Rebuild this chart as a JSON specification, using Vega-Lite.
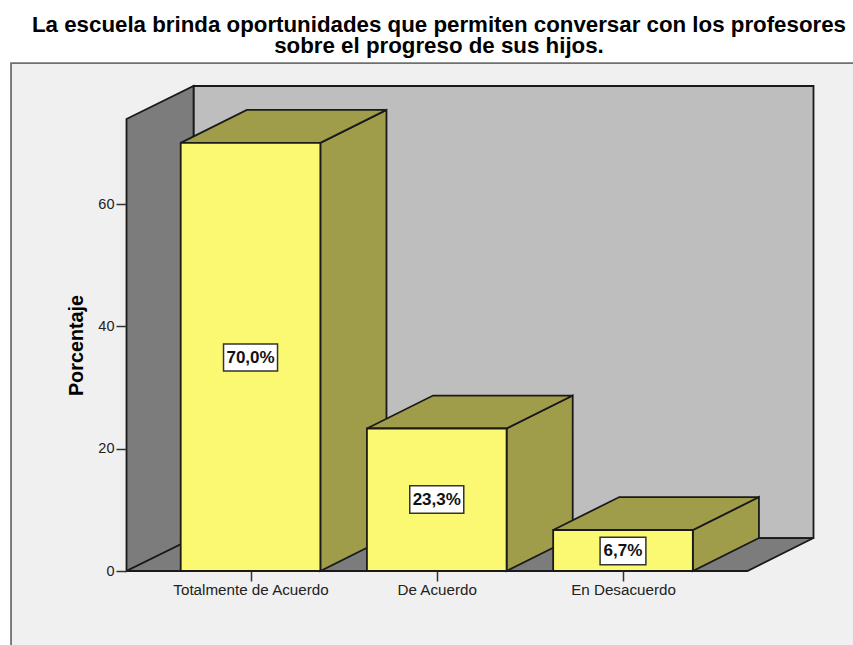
{
"$schema":"https://vega.github.io/schema/vega-lite/v6.json",
"width":687,"height":485,
"autosize":{"type":"none"},
"padding":{"left":126,"top":86,"right":40,"bottom":74},
"background":"#ffffff",
"config":{"view":{"stroke":null}},
"title":{"text":["La escuela brinda oportunidades que permiten conversar con los profesores","sobre el progreso de sus hijos."],"font":"Liberation Sans","fontSize":22.3,"fontWeight":"bold","color":"#000000","lineHeight":21.3,"anchor":"middle","dx":-30.5,"offset":2,"limit":0},
"datasets":{
"caras":[
{"cara":"panel","tipo":"panel","x":-0.286,"y0":-14,"y1":83.05},
{"cara":"panel","tipo":"panel","x":4.3,"y0":-14,"y1":83.05},
{"cara":"fondo","tipo":"fondo","x":0.694,"y0":5.39,"y1":79.3},
{"cara":"fondo","tipo":"fondo","x":4.023,"y0":5.39,"y1":79.3},
{"cara":"pared","tipo":"pared","x":0.334,"y0":0,"y1":73.9},
{"cara":"pared","tipo":"pared","x":0.694,"y0":5.39,"y1":79.3},
{"cara":"suelo","tipo":"pared","x":0.334,"y0":0,"y1":0},
{"cara":"suelo","tipo":"pared","x":0.694,"y0":0,"y1":5.39},
{"cara":"suelo","tipo":"pared","x":3.668,"y0":0,"y1":5.39},
{"cara":"suelo","tipo":"pared","x":4.023,"y0":5.39,"y1":5.39},
{"cara":"b1 lado","tipo":"sombra","x":1.375,"y0":0,"y1":70},
{"cara":"b1 lado","tipo":"sombra","x":1.73,"y0":5.39,"y1":75.39},
{"cara":"b1 tapa","tipo":"sombra","x":0.625,"y0":70,"y1":70},
{"cara":"b1 tapa","tipo":"sombra","x":0.98,"y0":70,"y1":75.39},
{"cara":"b1 tapa","tipo":"sombra","x":1.375,"y0":70,"y1":75.39},
{"cara":"b1 tapa","tipo":"sombra","x":1.73,"y0":75.39,"y1":75.39},
{"cara":"b1 frente","tipo":"frente","x":0.625,"y0":0,"y1":70},
{"cara":"b1 frente","tipo":"frente","x":1.375,"y0":0,"y1":70},
{"cara":"b2 lado","tipo":"sombra","x":2.375,"y0":0,"y1":23.3},
{"cara":"b2 lado","tipo":"sombra","x":2.73,"y0":5.39,"y1":28.69},
{"cara":"b2 tapa","tipo":"sombra","x":1.625,"y0":23.3,"y1":23.3},
{"cara":"b2 tapa","tipo":"sombra","x":1.98,"y0":23.3,"y1":28.69},
{"cara":"b2 tapa","tipo":"sombra","x":2.375,"y0":23.3,"y1":28.69},
{"cara":"b2 tapa","tipo":"sombra","x":2.73,"y0":28.69,"y1":28.69},
{"cara":"b2 frente","tipo":"frente","x":1.625,"y0":0,"y1":23.3},
{"cara":"b2 frente","tipo":"frente","x":2.375,"y0":0,"y1":23.3},
{"cara":"b3 lado","tipo":"sombra","x":3.375,"y0":0,"y1":6.7},
{"cara":"b3 lado","tipo":"sombra","x":3.73,"y0":5.39,"y1":12.09},
{"cara":"b3 tapa","tipo":"sombra","x":2.625,"y0":6.7,"y1":6.7},
{"cara":"b3 tapa","tipo":"sombra","x":2.98,"y0":6.7,"y1":12.09},
{"cara":"b3 tapa","tipo":"sombra","x":3.375,"y0":6.7,"y1":12.09},
{"cara":"b3 tapa","tipo":"sombra","x":3.73,"y0":12.09,"y1":12.09},
{"cara":"b3 frente","tipo":"frente","x":2.625,"y0":0,"y1":6.7},
{"cara":"b3 frente","tipo":"frente","x":3.375,"y0":0,"y1":6.7}
],
"etiquetas":[
{"categoria":"Totalmente de Acuerdo","etiqueta":"70,0%","centro":1,"medio":34.9,"x0":0.855,"x1":1.145,"y0":32.7,"y1":37.1},
{"categoria":"De Acuerdo","etiqueta":"23,3%","centro":2,"medio":11.69,"x0":1.855,"x1":2.145,"y0":9.45,"y1":13.93},
{"categoria":"En Desacuerdo","etiqueta":"6,7%","centro":3,"medio":3.27,"x0":2.877,"x1":3.123,"y0":1.03,"y1":5.51}
]
},
"layer":[
{"data":{"name":"caras"},
"mark":{"type":"area","strokeWidth":1.8,"strokeJoin":"miter","clip":false},
"encoding":{
"x":{"field":"x","type":"quantitative","scale":{"domain":[0.3313,4.0203],"nice":false,"zero":false},
"axis":{"title":null,"values":[1,2,3],"grid":false,"domain":false,"zindex":1,"tickSize":10,"tickWidth":1.5,"tickColor":"#333333","labelFont":"Liberation Sans","labelFontSize":15.2,"labelColor":"#222222","labelPadding":1,"labelExpr":"datum.value==1?'Totalmente de Acuerdo':datum.value==2?'De Acuerdo':'En Desacuerdo'"}},
"y":{"field":"y1","type":"quantitative","scale":{"domain":[0,79.3],"nice":false,"zero":false},
"axis":{"title":"Porcentaje","values":[0,20,40,60],"grid":false,"domain":false,"zindex":1,"tickSize":10,"tickWidth":1.5,"tickColor":"#333333","labelFont":"Liberation Sans","labelFontSize":14.5,"labelColor":"#222222","labelPadding":2,"titleFont":"Liberation Sans","titleFontSize":19.8,"titleFontWeight":"bold","titleColor":"#000000","titleX":-40,"titleY":259}},
"y2":{"field":"y0"},
"detail":{"field":"cara"},
"fill":{"field":"tipo","type":"nominal","legend":null,"scale":{"domain":["panel","fondo","pared","sombra","frente"],"range":["#f0f0f0","#bebebe","#7c7c7c","#a09d4a","#fbf872"]}},
"stroke":{"condition":{"test":"datum.tipo=='panel'","value":"#707070"},"value":"#1a1a1a"}
}},
{"data":{"name":"etiquetas"},
"mark":{"type":"rect","fill":"#ffffff","stroke":"#333333","strokeWidth":1.5},
"encoding":{
"x":{"field":"x0","type":"quantitative"},"x2":{"field":"x1"},
"y":{"field":"y0","type":"quantitative"},"y2":{"field":"y1"}
}},
{"data":{"name":"etiquetas"},
"mark":{"type":"text","font":"Liberation Sans","fontWeight":"bold","fontSize":17,"color":"#111111","align":"center","baseline":"middle"},
"encoding":{
"x":{"field":"centro","type":"quantitative"},
"y":{"field":"medio","type":"quantitative"},
"text":{"field":"etiqueta"}
}}
]
}
